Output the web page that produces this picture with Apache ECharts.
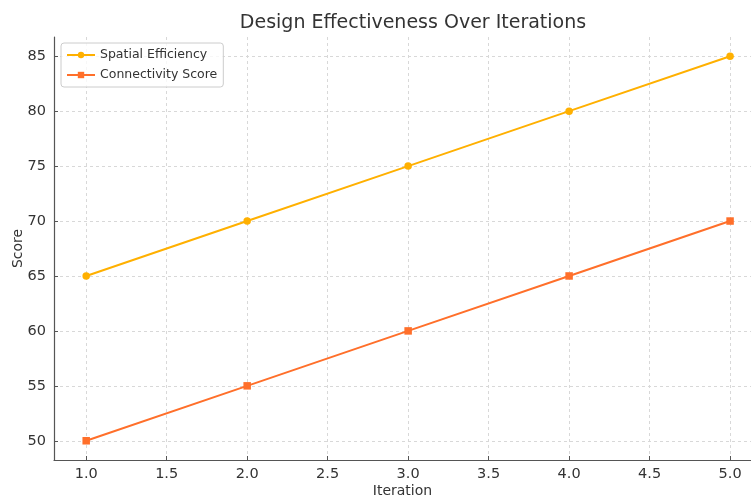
<!DOCTYPE html>
<html><head><meta charset="utf-8">
<script src="https://cdn.jsdelivr.net/npm/echarts@6/dist/echarts.min.js"></script>
<style>html,body{margin:0;padding:0;background:#fff}#c{width:751px;height:495px}</style>
</head><body><div id="c"></div>
<script>
const iterations = [1, 2, 3, 4, 5];
const spatialEfficiency = [65, 70, 75, 80, 85];
const connectivityScore = [50, 55, 60, 65, 70];
const xTicks = [1.0, 1.5, 2.0, 2.5, 3.0, 3.5, 4.0, 4.5, 5.0];
const yTicks = [50, 55, 60, 65, 70, 75, 80, 85];

const chart = echarts.init(document.getElementById('c'));
const font = 'DejaVu Sans';
chart.setOption({
  animation: false,
  textStyle: {fontFamily: font},
  title: {text: 'Design Effectiveness Over Iterations', left: 408, textAlign: 'center', top: 9,
    textStyle: {fontFamily: font, fontSize: 19, fontWeight: 'normal', color: '#333'}},
  grid: {left: 54, right: 0, top: 37, bottom: 35, containLabel: false, outerBoundsMode: 'none'},
  legend: {
    left: 61, top: 43, orient: 'vertical', itemGap: 6, itemWidth: 28, itemHeight: 8,
    backgroundColor: 'rgba(255,255,255,0.8)', borderColor: '#ccc', borderWidth: 1, borderRadius: 3,
    padding: [5, 6, 5, 5],
    textStyle: {fontFamily: font, fontSize: 12.5, color: '#333', lineHeight: 14},
    data: ['Spatial Efficiency', 'Connectivity Score']
  },
  xAxis: {
    type: 'value', min: 0.8, max: 5.13,
    name: 'Iteration', nameLocation: 'middle', nameGap: 24, nameMoveOverlap: false,
    nameTextStyle: {fontFamily: font, fontSize: 14, color: '#333'},
    axisLine: {show: true, lineStyle: {color: '#555', width: 1.2}},
    axisTick: {show: true, inside: true, length: 4, customValues: xTicks, lineStyle: {color: '#555'}},
    axisLabel: {customValues: xTicks, formatter: v => v.toFixed(1), fontFamily: font, fontSize: 14.5, color: '#333', margin: 7},
    splitLine: {show: true, lineStyle: {type: [3, 3], color: '#d8d8d8'}}
  },
  yAxis: {
    type: 'value', min: 48.25, max: 86.75,
    name: 'Score', nameLocation: 'middle', nameGap: 29, nameRotate: 90, nameMoveOverlap: false,
    nameTextStyle: {fontFamily: font, fontSize: 14, color: '#333'},
    axisLine: {show: true, lineStyle: {color: '#555', width: 1.2}},
    axisTick: {show: true, inside: true, length: 4, customValues: yTicks, lineStyle: {color: '#555'}},
    axisLabel: {customValues: yTicks, fontFamily: font, fontSize: 14.5, color: '#333', margin: 8},
    splitLine: {show: true, lineStyle: {type: [3, 3], color: '#d8d8d8'}}
  },
  series: [
    {name: 'Spatial Efficiency', type: 'line', data: iterations.map((x, i) => [x, spatialEfficiency[i]]),
     symbol: 'circle', symbolSize: 7.5, color: '#FFB000', lineStyle: {width: 2}},
    {name: 'Connectivity Score', type: 'line', data: iterations.map((x, i) => [x, connectivityScore[i]]),
     symbol: 'rect', symbolSize: 7.5, color: '#FF6F2A', lineStyle: {width: 2}}
  ]
});
</script></body></html>
